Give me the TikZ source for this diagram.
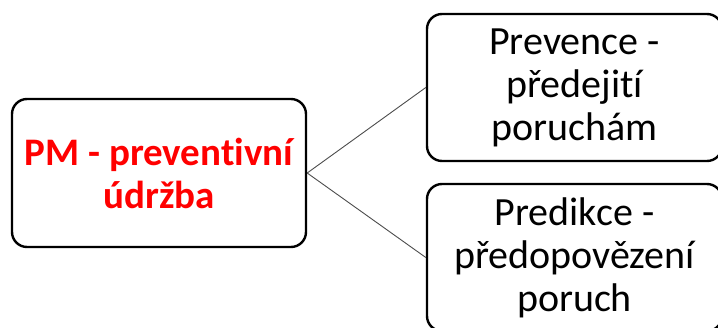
\documentclass[tikz,border=0pt]{standalone}
\usepackage{fontspec}
\setmainfont[Ligatures={NoCommon}]{Carlito}
\begin{document}
\begin{tikzpicture}[x=1pt,y=-1pt,
  box/.style={draw=black, line width=2.4pt, rounded corners=15pt, fill=white,
    align=center, inner sep=0pt, font=\fontsize{40pt}{43pt}\selectfont},
  link/.style={draw=black!70, line width=0.9pt}]
\useasboundingbox (0,0) rectangle (718,327);
\clip (0,0) rectangle (718,327);
\node[box, minimum width=294pt, minimum height=148pt, text=red,
      font=\fontsize{39pt}{43pt}\selectfont\bfseries] (pm) at (159,173)
  {PM - preventivní\\údržba};
\node[box, minimum width=295pt, minimum height=147pt] (prev) at (574.5,87.5)
  {Prevence -\\předejití\\poruchám};
\node[box, minimum width=295pt, minimum height=147pt] (pred) at (574.5,257.5)
  {Predikce -\\předopovězení\\poruch};
\draw[link] (pm.east) -- (prev.west);
\draw[link] (pm.east) -- (pred.west);
\end{tikzpicture}
\end{document}
